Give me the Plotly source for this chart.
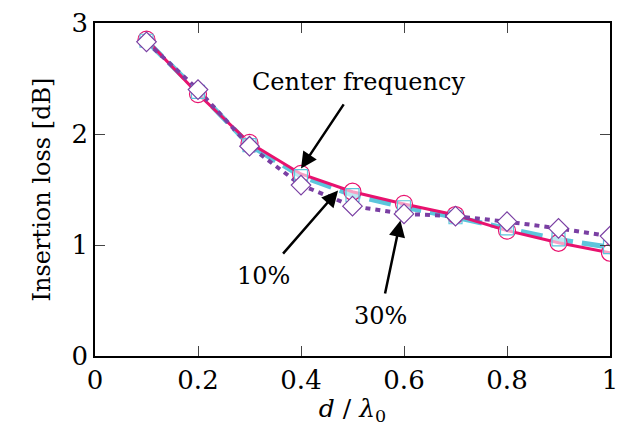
import plotly.graph_objects as go

x = [0.1, 0.2, 0.3, 0.4, 0.5, 0.6, 0.7, 0.8, 0.9, 1.0]
center = [2.85, 2.36, 1.92, 1.64, 1.48, 1.37, 1.27, 1.13, 1.02, 0.93]
pct10 = [2.84, 2.38, 1.90, 1.62, 1.45, 1.34, 1.25, 1.15, 1.05, 0.98]
pct30 = [2.83, 2.40, 1.89, 1.54, 1.35, 1.28, 1.26, 1.21, 1.15, 1.08]

PINK = "#e8126e"
CYAN = "#5cc6dc"
PURPLE = "#7a3fa3"
FONT = "DejaVu Serif"

fig = go.Figure()
fig.add_trace(go.Scatter(x=x, y=pct10, mode="lines",
    line=dict(color=CYAN, width=5, dash="22px,9px")))
fig.add_trace(go.Scatter(x=x, y=center, mode="lines",
    line=dict(color=PINK, width=3)))
fig.add_trace(go.Scatter(x=x, y=pct30, mode="lines",
    line=dict(color=PURPLE, width=4, dash="5px,5px")))
fig.add_trace(go.Scatter(x=x, y=center, mode="markers",
    marker=dict(symbol="circle", size=17, color="rgba(255,255,255,0.6)",
                line=dict(color=PINK, width=1.2))))
fig.add_trace(go.Scatter(x=x, y=pct10, mode="markers",
    marker=dict(symbol="square-open", size=13, color=CYAN, line=dict(width=1.2))))
fig.add_trace(go.Scatter(x=x, y=pct30, mode="markers",
    marker=dict(symbol="diamond", size=15, color="white",
                line=dict(color=PURPLE, width=1.2))))

ann = [
    ("Center frequency", 0.512, 2.47, 0.40, 1.69),
    ("10%", 0.327, 0.72, 0.472, 1.49),
    ("30%", 0.554, 0.36, 0.593, 1.22),
]
for t, tx, ty, hx, hy in ann:
    fig.add_annotation(x=hx, y=hy, ax=tx, ay=ty, axref="x", ayref="y",
                       text=t, showarrow=True, arrowhead=2, arrowsize=1.3,
                       arrowwidth=2.5, arrowcolor="black", borderpad=8,
                       font=dict(family=FONT, size=24, color="black"))

axis_common = dict(showline=True, linecolor="black", linewidth=1.5, mirror="allticks",
                   ticks="inside", ticklen=10, tickcolor="#444", tickwidth=1,
                   showgrid=False, zeroline=False,
                   tickfont=dict(family=FONT, size=26, color="black"))
fig.update_xaxes(range=[0, 1], tickvals=[0, 0.2, 0.4, 0.6, 0.8, 1],
                 ticktext=["0", "0.2", "0.4", "0.6", "0.8", "1"],
                 title=dict(text="<i>d</i> / <i>λ</i><sub>0</sub>", standoff=2,
                            font=dict(family=FONT, size=25, color="black")),
                 **axis_common)
fig.update_yaxes(range=[0, 3], dtick=1,
                 title=dict(text="Insertion loss [dB]", standoff=14,
                            font=dict(family=FONT, size=24, color="black")),
                 **axis_common)
fig.update_layout(width=626, height=426, showlegend=False,
                  margin=dict(l=95, r=8, t=22, b=70),
                  font=dict(family=FONT),
                  plot_bgcolor="white", paper_bgcolor="white")
fig.write_html("out.html")
